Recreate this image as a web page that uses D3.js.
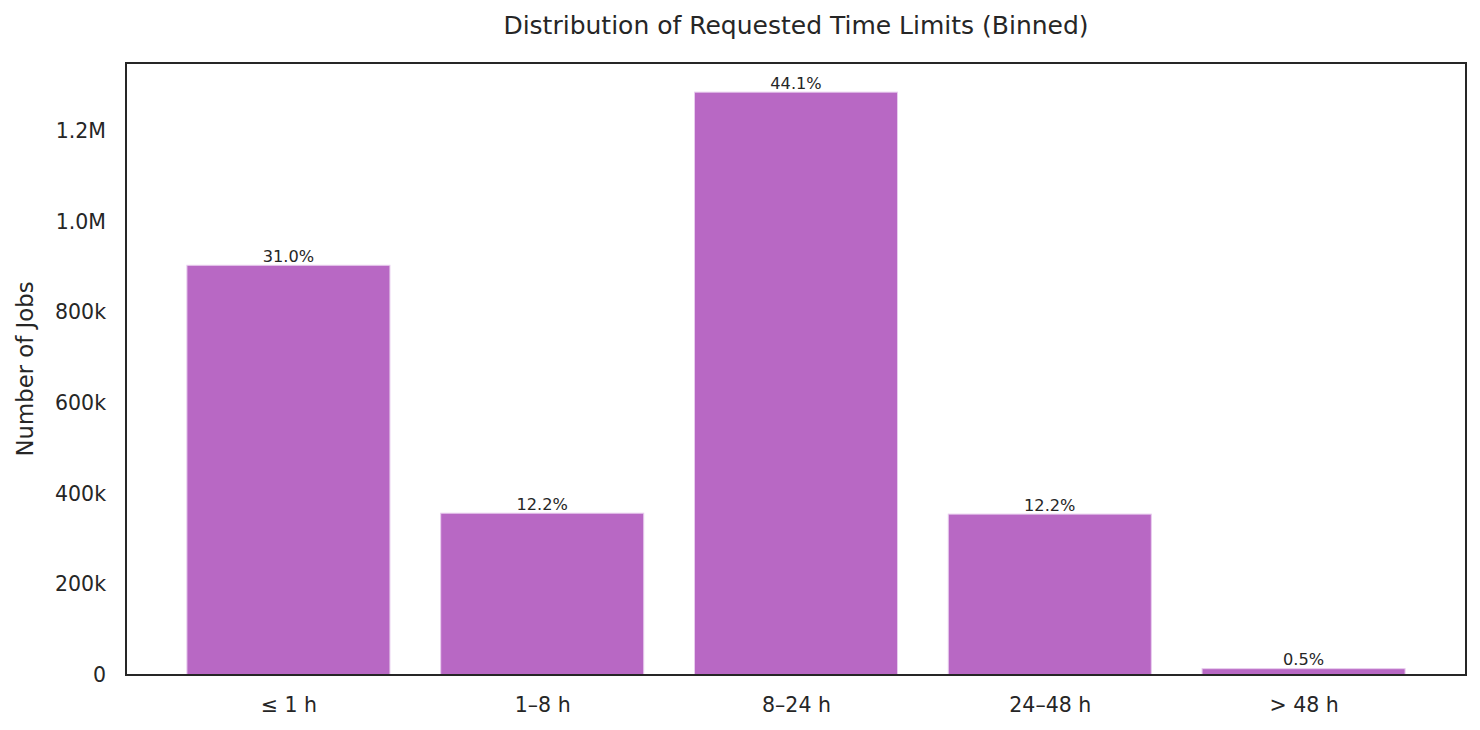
<!DOCTYPE html>
<html><head><meta charset="utf-8">
<script src="https://cdn.jsdelivr.net/npm/d3@7"></script>
<style>body{margin:0;background:#fff;} text{font-family:"DejaVu Sans",sans-serif;fill:#262626;}</style>
</head><body><svg id="c" width="1480" height="730"></svg>
<script>
const categories = ["≤ 1 h", "1–8 h", "8–24 h", "24–48 h", "> 48 h"];
const jobs = [904000, 357000, 1286000, 355000, 14000];
const yTicks = [0, 200000, 400000, 600000, 800000, 1000000, 1200000];
const yTickLabels = ["0", "200k", "400k", "600k", "800k", "1.0M", "1.2M"];

const svg = d3.select("#c");
const m = {l:126, r:1466, t:63, b:675};
const total = d3.sum(jobs);
const x = d3.scaleLinear().domain([-0.64, categories.length - 1 + 0.64]).range([m.l, m.r]);
const y = d3.scaleLinear().domain([0, d3.max(jobs) * 1.05]).range([m.b, m.t]);
const bw = x(0.8) - x(0);

svg.selectAll("rect.bar").data(jobs).join("rect").attr("class","bar")
  .attr("x", (d,i) => x(i) - bw/2).attr("width", bw)
  .attr("y", d => y(d)).attr("height", d => y(0) - y(d))
  .attr("fill", "#b868c4").attr("stroke", "#e8cdee").attr("stroke-width", 1);

svg.selectAll("text.pct").data(jobs).join("text").attr("class","pct")
  .attr("x", (d,i) => x(i)).attr("y", d => y(d) - 3.5)
  .attr("text-anchor","middle").style("font-size","16.2px")
  .text(d => (d/total*100).toFixed(1) + "%");

svg.append("rect").attr("x", m.l).attr("y", m.t).attr("width", m.r-m.l).attr("height", m.b-m.t)
  .attr("fill","none").attr("stroke","#262626").attr("stroke-width",2);

const yAxis = d3.axisLeft(y).tickValues(yTicks).tickFormat((d,i) => yTickLabels[i]).tickSize(0).tickPadding(20);
const gy = svg.append("g").attr("transform", `translate(${m.l},0)`).call(yAxis);
gy.select(".domain").remove();
gy.selectAll("text").style("font-size","20.5px").style("font-family","DejaVu Sans").attr("fill","#262626");

const xAxis = d3.axisBottom(x).tickValues(d3.range(categories.length)).tickFormat(i => categories[i]).tickSize(0).tickPadding(22);
const gx = svg.append("g").attr("transform", `translate(0,${m.b})`).call(xAxis);
gx.select(".domain").remove();
gx.selectAll("text").style("font-size","20.5px").style("font-family","DejaVu Sans").attr("fill","#262626");

svg.append("text").attr("x", (m.l+m.r)/2).attr("y", 34).attr("text-anchor","middle")
  .style("font-size","25px").text("Distribution of Requested Time Limits (Binned)");
svg.append("text").attr("transform", `translate(33,${(m.t+m.b)/2}) rotate(-90)`).attr("text-anchor","middle")
  .style("font-size","22.8px").text("Number of Jobs");
</script></body></html>
